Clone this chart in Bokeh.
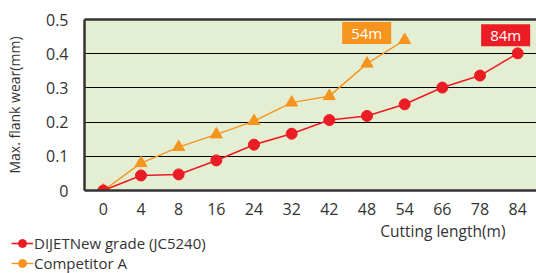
from bokeh.plotting import figure
from bokeh.models import (ColumnDataSource, FixedTicker, Legend, LegendItem,
                          Label, LinearAxis, Range1d)
from bokeh.embed import file_html
from bokeh.resources import INLINE

# ---- data ----
cutting_length = ["0", "4", "8", "16", "24", "32", "42", "48", "54", "66", "78", "84"]
dijet_wear = [0.0, 0.044, 0.047, 0.088, 0.134, 0.166, 0.206, 0.218, 0.252, 0.301, 0.336, 0.401]
comp_length = ["0", "4", "8", "16", "24", "32", "42", "48", "54"]
comp_wear = [0.0, 0.080, 0.127, 0.164, 0.203, 0.257, 0.276, 0.371, 0.440]
y_ticks = [0, 0.1, 0.2, 0.3, 0.4, 0.5]
series_names = ["DIJETNew grade (JC5240)", "Competitor A"]
end_labels = ["84m", "54m"]
x_title = "Cutting length(m)"
y_title = "Max. flank wear(mm)"

RED = "#EC1C24"
ORANGE = "#F7941D"
FONT = "Open Sans"
TXT = "#333333"

p = figure(width=536, height=220, x_range=cutting_length, y_range=(0, 0.5),
           output_backend="svg", toolbar_location=None,
           min_border_left=84, min_border_right=0, min_border_top=19,
           min_border_bottom=30)
p.background_fill_color = "#E3EED2"
p.border_fill_color = "white"
p.outline_line_color = None

# axes
p.yaxis.ticker = FixedTicker(ticks=y_ticks)
p.yaxis.major_label_overrides = {0: "0"}
for ax in (p.xaxis[0], p.yaxis[0]):
    ax.axis_line_color = "#333333"
    ax.axis_line_width = 2.5
    ax.major_tick_line_color = None
    ax.minor_tick_line_color = None
    ax.major_label_text_font = FONT
    ax.major_label_text_font_size = "16px"
    ax.major_label_text_color = TXT
p.yaxis.major_label_standoff = 10
p.xaxis.major_label_standoff = 6
p.yaxis.axis_label = y_title
p.yaxis.axis_label_text_font = FONT
p.yaxis.axis_label_text_font_size = "14px"
p.yaxis.axis_label_text_font_style = "normal"
p.yaxis.axis_label_text_color = TXT
p.yaxis.axis_label_standoff = 19

top_axis = LinearAxis(ticker=FixedTicker(ticks=[]), axis_line_color="#333333",
                      axis_line_width=2.5, major_tick_line_color=None,
                      minor_tick_line_color=None)
p.add_layout(top_axis, "above")

p.xgrid.grid_line_color = None
p.ygrid.ticker = FixedTicker(ticks=y_ticks)
p.ygrid.grid_line_color = "black"
p.ygrid.grid_line_width = 1

# series
src_d = ColumnDataSource(dict(x=cutting_length, y=dijet_wear))
src_c = ColumnDataSource(dict(x=comp_length, y=comp_wear))
p.line("x", "y", source=src_c, color=ORANGE, line_width=1.4)
p.scatter("x", "y", source=src_c, marker="triangle", size=12, color=ORANGE)
p.line("x", "y", source=src_d, color=RED, line_width=1.6)
p.scatter("x", "y", source=src_d, marker="circle", size=11, color=RED)

# end labels (categorical synthetic coordinate = index + 0.5)
d_last = len(dijet_wear) - 1 + 0.5
c_last = len(comp_wear) - 1 + 0.5
p.add_layout(Label(x=d_last, y=dijet_wear[-1], text=end_labels[0],
                   x_offset=-12, y_offset=18, text_align="center", text_baseline="middle",
                   text_color="white", text_font=FONT, text_font_size="15px",
                   background_fill_color=RED,
                   padding=dict(left=9, right=9, top=1, bottom=1)))
p.add_layout(Label(x=c_last, y=comp_wear[-1], text=end_labels[1],
                   x_offset=-38, y_offset=7, text_align="center", text_baseline="middle",
                   text_color="white", text_font=FONT, text_font_size="15px",
                   background_fill_color=ORANGE,
                   padding=dict(left=9, right=9, top=1, bottom=1)))

# ---- lower strip (separate root): x-axis title and legend ----
q = figure(width=536, height=53, x_range=Range1d(0, 536), y_range=Range1d(53, 0),
           output_backend="svg", toolbar_location=None,
           x_axis_location=None, y_axis_location=None,
           min_border_left=0, min_border_right=0, min_border_top=0, min_border_bottom=0)
q.outline_line_color = None
q.xgrid.visible = False
q.ygrid.visible = False
q.background_fill_color = "white"
q.add_layout(Label(x=505, y=10, text=x_title, text_align="right", text_baseline="middle",
                   text_font=FONT, text_font_size="15.5px", text_color=TXT))

# legend-only renderers (no visible data)
blank = ColumnDataSource(dict(x=[float("nan")], y=[float("nan")]))
lr = q.line("x", "y", source=blank, color=RED, line_width=1.6)
cr = q.scatter("x", "y", source=blank, marker="circle", size=11, color=RED)
lo = q.line("x", "y", source=blank, color=ORANGE, line_width=1.4)
co = q.scatter("x", "y", source=blank, marker="circle", size=11, color=ORANGE)
legend = Legend(items=[LegendItem(label=series_names[0], renderers=[lr, cr]),
                       LegendItem(label=series_names[1], renderers=[lo, co])],
                location=(11, 0), orientation="vertical",
                background_fill_alpha=0, border_line_color=None,
                padding=0, margin=0, spacing=0,
                glyph_width=22, glyph_height=20, label_standoff=1,
                label_text_font=FONT, label_text_font_size="15px",
                label_text_color=TXT, label_height=20)
q.add_layout(legend, "center")

open("out.html", "w").write(file_html((p, q), INLINE))
